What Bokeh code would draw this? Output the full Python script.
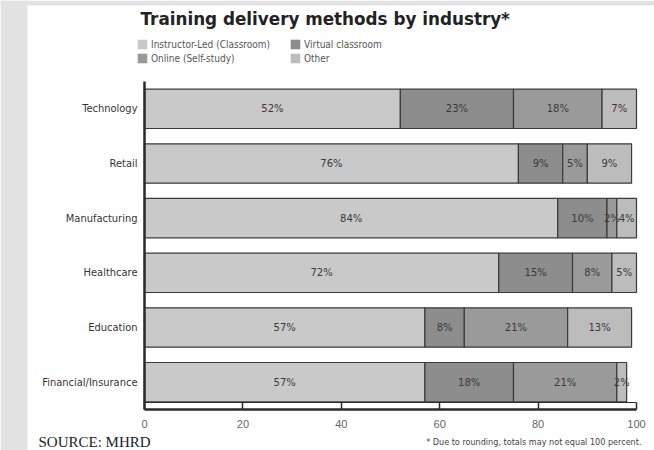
from bokeh.plotting import figure
from bokeh.models import (Range1d, FixedTicker, Label, Legend, LegendItem,
                          ColumnDataSource, LinearAxis, BoxAnnotation)
from bokeh.core.properties import value
from bokeh.embed import file_html
from bokeh.resources import INLINE

# ---- data -------------------------------------------------------------
categories = ["Technology", "Retail", "Manufacturing", "Healthcare",
              "Education", "Financial/Insurance"]
instructor_led = [52, 76, 84, 72, 57, 57]
virtual_classroom = [23, 9, 10, 15, 8, 18]
online_self_study = [18, 5, 2, 8, 21, 21]
other = [7, 9, 4, 5, 13, 2]
x_ticks = [0, 20, 40, 60, 80, 100]

series_names = ["Instructor-Led (Classroom)", "Virtual classroom",
                "Online (Self-study)", "Other"]
series_values = [instructor_led, virtual_classroom, online_self_study, other]
series_colors = ["#c9c9c9", "#8d8d8d", "#9a9a9a", "#bcbcbc"]

CONDENSED = "DejaVu Sans Condensed"

# ---- canvas geometry: the plot frame fills the whole canvas -------------
W, H = 654, 450
X0_PX, X_SCALE = 144, 4.92      # pixel column of x = 0, pixels per unit
Y0_PX, Y_SCALE = 409, 54.67     # pixel row of y = 0, pixels per unit


def dx(px):
    return (px - X0_PX) / X_SCALE


def dy(py):
    return (Y0_PX - py) / Y_SCALE


n = len(categories)
y_pos = [n - i - 0.5 for i in range(n)]

p = figure(width=W, height=H, x_range=Range1d(dx(0), dx(W)),
           y_range=Range1d(dy(H), dy(0)), output_backend="svg",
           toolbar_location=None, x_axis_location=None, y_axis_location=None,
           min_border=0)
p.outline_line_color = None
p.grid.grid_line_color = None
p.background_fill_color = "white"
p.border_fill_color = "white"

# page margins in grey
p.add_layout(BoxAnnotation(right=dx(27), fill_color="#e2e2e2", fill_alpha=1,
                           line_color=None, level="underlay"))
p.add_layout(BoxAnnotation(bottom=dy(5), fill_color="#e2e2e2", fill_alpha=1,
                           line_color=None, level="underlay"))

# ---- stacked bars + value labels ----------------------------------------
left = [0.0] * n
lab_x, lab_y, lab_t = [], [], []
swatches = {}
for name, vals, col in zip(series_names, series_values, series_colors):
    right = [l + v for l, v in zip(left, vals)]
    src = ColumnDataSource(dict(y=y_pos, left=left, right=right))
    p.hbar(y="y", left="left", right="right", height=0.72, source=src,
           fill_color=col, line_color="#3a3a3a", line_width=1.2)
    # borderless twin of the series, used only for the legend swatch
    swatches[name] = p.hbar(y="y", left="left", right="right", height=0.72,
                            source=src, fill_color=col, line_color=None,
                            visible=False)
    for l, r, v, yy in zip(left, right, vals, y_pos):
        lab_x.append((l + r) / 2)
        lab_y.append(yy)
        lab_t.append(f"{v}%")
    left = right

p.text(x=lab_x, y=lab_y, text=lab_t, text_align="center",
       text_baseline="middle", text_font=value("DejaVu Sans"),
       text_font_size="10px", text_color="#3a3a3a")

# ---- legend ---------------------------------------------------------------
legend_order = ["Instructor-Led (Classroom)", "Online (Self-study)",
                "Virtual classroom", "Other"]
legend = Legend(items=[LegendItem(label=nm, renderers=[swatches[nm]])
                       for nm in legend_order],
                nrows=2, location=(136, H - 64), padding=0, margin=0,
                spacing=2, glyph_width=12, glyph_height=12, label_height=10,
                label_standoff=3, label_width=136,
                label_text_font=CONDENSED, label_text_font_size="10px",
                label_text_color="#555555", border_line_color=None,
                background_fill_alpha=0)
p.add_layout(legend)

# ---- axes pinned at the origin ------------------------------------------
xa = LinearAxis(fixed_location=0, bounds=(x_ticks[0], x_ticks[-1]),
                ticker=FixedTicker(ticks=x_ticks))
xa.axis_line_width = 2.5
xa.axis_line_color = "#2a2a2a"
xa.major_tick_in = 7
xa.major_tick_out = 0
xa.major_tick_line_width = 1.5
xa.major_tick_line_color = "#2a2a2a"
xa.minor_tick_line_color = None
xa.major_label_standoff = 10
xa.major_label_text_font = "Liberation Sans"
xa.major_label_text_font_size = "11px"
xa.major_label_text_color = "#666666"
p.add_layout(xa, "below")

ya = LinearAxis(fixed_location=0, bounds=(0, n),
                ticker=FixedTicker(ticks=y_pos))
ya.major_label_overrides = {yy: c for yy, c in zip(y_pos, categories)}
ya.axis_line_width = 2.5
ya.axis_line_color = "#2a2a2a"
ya.major_tick_in = 0
ya.major_tick_out = 0
ya.minor_tick_line_color = None
ya.major_label_standoff = 7
ya.major_label_text_font = CONDENSED
ya.major_label_text_font_size = "11px"
ya.major_label_text_color = "#333333"
p.add_layout(ya, "left")

# thin rule closing the scale band along the bottom
p.segment(x0=x_ticks[0], x1=x_ticks[-1], y0=dy(402), y1=dy(402),
          line_color="#2a2a2a", line_width=1)

# ---- title and notes ---------------------------------------------------
p.add_layout(Label(x=dx(140), y=dy(18),
                   text="Training delivery methods by industry*",
                   text_font="DejaVu Sans", text_font_style="bold",
                   text_font_size="16.8px", text_color="#222222",
                   text_baseline="middle"))
p.add_layout(Label(x=dx(38), y=dy(441), text="SOURCE: MHRD",
                   text_font="Liberation Serif", text_font_size="15px",
                   text_color="#222222", text_baseline="middle"))
p.add_layout(Label(x=dx(641), y=dy(441),
                   text="* Due to rounding, totals may not equal 100 percent.",
                   text_font=CONDENSED, text_font_size="9px",
                   text_color="#444444", text_align="right",
                   text_baseline="middle"))

open("out.html", "w").write(file_html(p, INLINE))
